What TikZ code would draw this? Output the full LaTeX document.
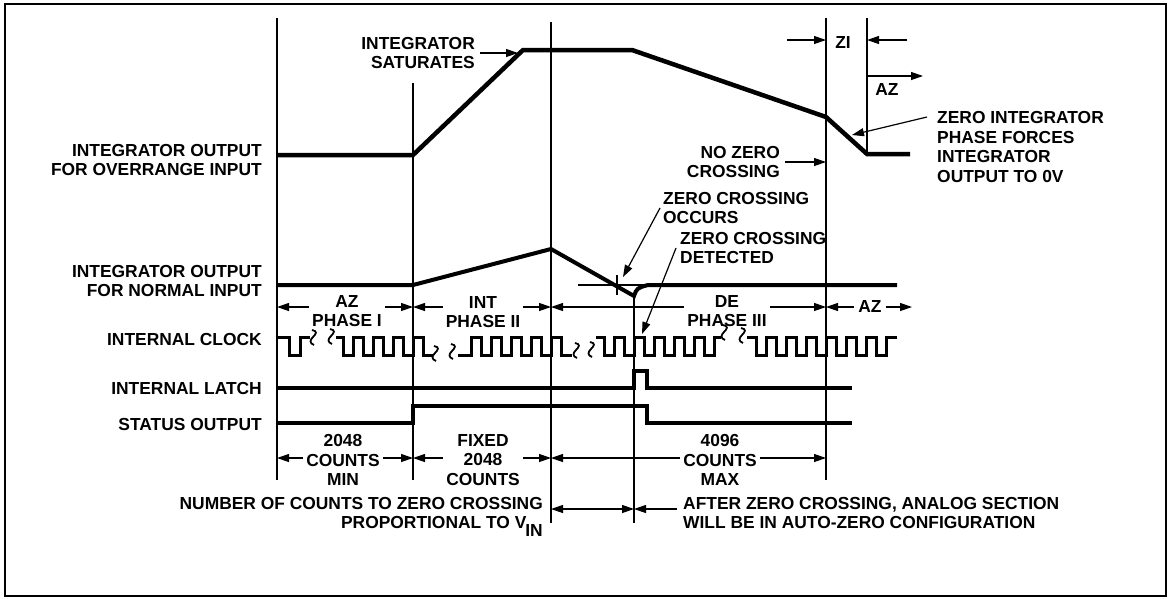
\documentclass[tikz,border=0pt]{standalone}
\usepackage{fontspec}
\setmainfont{Liberation Sans}
\usepackage{xcolor}
\usetikzlibrary{arrows.meta, positioning, calc}

\newcommand{\sqg}[2]{\draw[squig] (#1,#2) .. controls +(6,1) and +(3,-3) .. ++(1,7) .. controls +(-3,3) and +(-5,-2) .. ++(1,8);}

\begin{document}
\begin{tikzpicture}[x=1pt, y=-1pt,
    every node/.style={inner sep=0pt, font=\fontsize{17.4}{19.7}\selectfont\bfseries},
    sig/.style={line width=4pt},
    clk/.style={line width=3pt},
    guide/.style={line width=1.2pt},
    squig/.style={line width=1.8pt},
    ptr/.style={line width=1.2pt, -{Triangle[length=12pt, width=8pt]}},
    dbl/.style={line width=1.2pt, {Triangle[length=12pt, width=8pt]}-{Triangle[length=12pt, width=8pt]}},
    lbl/.style={anchor=east, align=right},
    txt/.style={anchor=west, align=left},
    dim/.style={align=center, inner xsep=3pt}]
    \useasboundingbox (0,0) rectangle (1169,598);
    \draw[line width=1.5pt] (5,4) rectangle (1166,596);

    % phase markers
    \draw[guide] (277,18) coordinate (m0) -- (277,480);
    \draw[guide] (413,83) coordinate (m1) -- (413,480);
    \draw[guide] (551,22) coordinate (m2) -- (551,523);
    \draw[guide] (634,296) coordinate (m3) -- (634,523);
    \draw[guide] (826,18) coordinate (m4) -- (826,480);
    \draw[guide] (867,18) coordinate (m5) -- (867,154);
    \coordinate (rowph) at (0,307);
    \coordinate (rowcnt) at (0,458);
    \coordinate (rowzc) at (0,509);

    % waveforms
    \draw[sig, line width=4.5pt] (277,155) -- (413,155) -- (523,50) -- (632,50) -- (826,117) -- (867,154) -- (910,154);
    \draw[sig] (277,285) -- (413,285) -- (551,249) -- (634,296) .. controls (637,288) .. (648,285) -- (897,285);
    \draw[guide] (578,285) -- (650,285);
    \draw[guide] (617,275) -- (617,295);
    \draw[clk] (277,337) -- (289,337) -- (289,355) -- (300,355) -- (300,337) -- (310,337);
    \draw[clk] (336,337) \foreach \f in {343,363,383,403} {-- (\f,337) -- (\f,355) -- (\f+10,355) -- (\f+10,337)} -- (423,337) -- (423,355) -- (433,355);
    \draw[clk] (458,355) \foreach \r in {471,491,511,531,551} {-- (\r,355) -- (\r,337) -- (\r+10,337) -- (\r+10,355)} -- (572,355);
    \draw[clk] (596,337) \foreach \f in {604,624,644,664,684,704} {-- (\f,337) -- (\f,355) -- (\f+10,355) -- (\f+10,337)} -- (721,337);
    \draw[clk] (747,337) \foreach \f in {756,776,796,816,836,856,876} {-- (\f,337) -- (\f,355) -- (\f+10,355) -- (\f+10,337)} -- (897,337);
    \sqg{312}{330} \sqg{330}{329}
    \sqg{434}{346} \sqg{451}{344}
    \sqg{575}{343} \sqg{590}{342}
    \sqg{723}{325} \sqg{741}{328}
    \draw[sig] (277,388) -- (634,388) -- (634,371) -- (647,371) -- (647,388) -- (852,388);
    \draw[sig] (277,423) -- (413,423) -- (413,406) -- (647,406) -- (647,423) -- (852,423);

    % row labels
    \node[lbl] (ovr) at (262,160) {INTEGRATOR OUTPUT\\FOR OVERRANGE INPUT};
    \node[lbl] (nrm) at (262,281) {INTEGRATOR OUTPUT\\FOR NORMAL INPUT};
    \node[lbl] (iclk) at (262,340) {INTERNAL CLOCK};
    \node[lbl] (ilat) at (262,389) {INTERNAL LATCH};
    \node[lbl] (stat) at (262,424) {STATUS OUTPUT};

    % callouts
    \node[lbl] (sat) at (475,53) {INTEGRATOR\\SATURATES};
    \coordinate (satpt) at (518,53);
    \draw[ptr] ([xshift=5pt]sat.east) -- (satpt);
    \node (zi) at (843,43) {ZI};
    \coordinate (zil) at (787,40);
    \coordinate (zir) at (907,40);
    \draw[ptr] (zil) -- (zil -| m4);
    \draw[ptr] (zir) -- (zir -| m5);
    \node (aztop) at (887,90) {AZ};
    \coordinate (azend) at (923,76);
    \draw[ptr] (m5 |- azend) -- (azend);
    \node[txt] (zif) at (937,147) {ZERO INTEGRATOR\\PHASE FORCES\\INTEGRATOR\\OUTPUT TO 0V};
    \coordinate (zitail) at (927,117);
    \coordinate (zihead) at (852,135);
    \draw[ptr] (zitail) -- (zihead);
    \node[lbl] (nozc) at (780,162) {NO ZERO\\CROSSING};
    \draw[ptr] ([xshift=5pt]nozc.east) -- (nozc.east -| m4);
    \node[txt] (zco) at (663,208) {ZERO CROSSING\\OCCURS};
    \coordinate (zcpt) at (623,277);
    \draw[ptr] ([xshift=-3pt]zco.west) -- (zcpt);
    \node[txt] (zcd) at (680,248) {ZERO CROSSING\\DETECTED};
    \coordinate (zdpt) at (642,334);
    \draw[ptr] ([xshift=-4pt]zcd.west) -- (zdpt);

    % phases
    \node[dim] (ph1) at (347,311) {AZ\\PHASE I};
    \draw[ptr] (ph1.west |- rowph) -- (m0 |- rowph);
    \draw[ptr] (ph1.east |- rowph) -- (m1 |- rowph);
    \node[dim] (ph2) at (483,312) {INT\\PHASE II};
    \draw[ptr] (ph2.west |- rowph) -- (m1 |- rowph);
    \draw[ptr] (ph2.east |- rowph) -- (m2 |- rowph);
    \node[dim] (ph3) at (727,311) {DE\\PHASE III};
    \draw[ptr] (ph3.west |- rowph) -- (m2 |- rowph);
    \draw[ptr] (ph3.east |- rowph) -- (m4 |- rowph);
    \node[dim, inner xsep=4pt] (az2) at (870,307) {AZ};
    \coordinate (azr) at (912,307);
    \draw[ptr] (az2.west) -- (m4 |- rowph);
    \draw[ptr] (az2.east) -- (azr);

    % counts
    \node[dim] (c1) at (343,460) {2048\\COUNTS\\MIN};
    \draw[ptr] (c1.west |- rowcnt) -- (m0 |- rowcnt);
    \draw[ptr] (c1.east |- rowcnt) -- (m1 |- rowcnt);
    \node[dim] (c2) at (483,460) {FIXED\\2048\\COUNTS};
    \draw[ptr] (c2.west |- rowcnt) -- (m1 |- rowcnt);
    \draw[ptr] (c2.east |- rowcnt) -- (m2 |- rowcnt);
    \node[dim] (c3) at (720,460) {4096\\COUNTS\\MAX};
    \draw[ptr] (c3.west |- rowcnt) -- (m2 |- rowcnt);
    \draw[ptr] (c3.east |- rowcnt) -- (m4 |- rowcnt);

    \draw[dbl] (m2 |- rowzc) -- (m3 |- rowzc);
    \node[lbl] (num) at (543,513) {NUMBER OF COUNTS TO ZERO CROSSING\\PROPORTIONAL TO V\kern-1pt\smash{\raisebox{-8pt}{IN}}};
    \node[txt, inner xsep=6pt] (aft) at (677,513) {AFTER ZERO CROSSING, ANALOG SECTION\\WILL BE IN AUTO-ZERO CONFIGURATION};
    \draw[ptr] (aft.west |- rowzc) -- (m3 |- rowzc);
\end{tikzpicture}
\end{document}
